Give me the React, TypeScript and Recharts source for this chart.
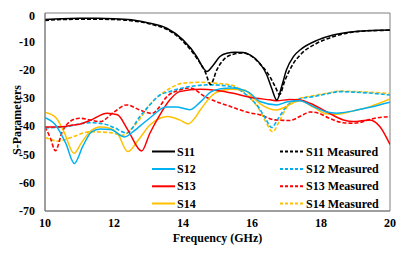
import React from 'react';
import { LineChart, Line, XAxis, YAxis, ReferenceArea } from 'recharts';

// ---- data ----
const xTicks = [10, 12, 14, 16, 18, 20];
const yTicks = [-70, -60, -50, -40, -30, -20, -10, 0];

const s11Freq = [10, 10.5, 11, 11.5, 12, 12.5, 13.04, 13.53, 14.0, 14.4, 14.59, 14.69, 14.88, 15.07, 15.27, 15.5, 15.75, 15.94, 16.23, 16.43, 16.57, 16.72, 16.86, 17.0, 17.2, 17.4, 17.9, 18.35, 18.85, 19.4, 20];
const s11Vals = [-2.3, -2.0, -1.9, -1.9, -2.0, -2.4, -3.6, -5.4, -9.5, -15.4, -19.5, -20.7, -18.4, -15.4, -14.2, -13.9, -14.0, -14.8, -17.8, -21.9, -26.6, -30.8, -26, -20.1, -15.4, -13, -9.6, -7.8, -6.7, -6.2, -6.0];

const s11mFreq = [10, 10.5, 11, 11.5, 12, 12.5, 13.04, 13.53, 14.0, 14.4, 14.64, 14.8, 14.98, 15.17, 15.46, 15.75, 15.94, 16.23, 16.52, 16.67, 16.8, 16.95, 17.2, 17.4, 17.88, 18.35, 18.85, 19.4, 20];
const s11mVals = [-2.6, -2.3, -2.2, -2.2, -2.3, -2.7, -3.9, -5.8, -10, -16, -20.7, -25.3, -20.1, -16.6, -14.6, -14.1, -14.9, -18, -22.5, -26, -28.8, -24, -17.8, -14.8, -10.7, -8.4, -6.9, -6.3, -6.1];

const s12Freq = [10, 10.3, 10.6, 10.85, 11.1, 11.35, 11.6, 11.9, 12.3, 12.6, 12.75, 13.1, 13.5, 13.8, 14.2, 14.5, 14.8, 15.1, 15.4, 15.9, 16.23, 16.72, 17.0, 17.39, 17.78, 18.16, 18.45, 18.94, 19.42, 20];
const s12Vals = [-37, -39.5, -46, -53.2, -47, -42, -41, -41.2, -43.8, -41.5, -40, -36.5, -33.2, -33.2, -34.2, -31.5, -28, -26.8, -26.5, -28, -31.3, -32.5, -31.5, -31, -33.1, -35, -35.4, -34.6, -33.3, -31.5];

const s12mFreq = [10, 10.58, 11.3, 11.74, 12.0, 12.37, 12.75, 13.0, 13.33, 13.6, 14.2, 14.8, 15.4, 15.9, 16.2, 16.4, 16.57, 16.75, 17.0, 17.3, 17.8, 18.2, 18.55, 19.0, 19.4, 20];
const s12mVals = [-40.6, -40.2, -38.8, -39.3, -40.5, -42.4, -36.6, -33, -29, -27.8, -26, -25.4, -26, -29.6, -33.5, -37.5, -40.5, -37.5, -33, -30.7, -29.5, -28.5, -27.8, -28, -28.3, -29];

const s13Freq = [10, 10.5, 10.81, 11.0, 11.3, 11.8, 12.1, 12.4, 12.8, 13.04, 13.33, 13.62, 13.9, 14.5, 14.98, 15.46, 15.94, 16.52, 16.72, 17.1, 17.4, 17.68, 18.16, 18.65, 18.94, 19.42, 19.71, 20];
const s13Vals = [-40.3, -40.2, -39.6, -39.3, -38, -35.4, -36, -41.3, -48.8, -42.5, -36, -30.7, -27.8, -27, -27.4, -28.4, -29.8, -30.7, -31, -30.6, -30.8, -31.9, -34.9, -37.8, -38.4, -37.8, -40.2, -46.5];

const s13mFreq = [10, 10.15, 10.3, 10.5, 10.72, 11.0, 11.3, 11.6, 12.0, 12.37, 12.75, 13.1, 13.3, 13.5, 13.9, 14.2, 14.64, 15.36, 15.94, 16.23, 16.67, 17.1, 17.4, 17.68, 17.95, 18.2, 18.65, 18.95, 19.2, 19.42, 20];
const s13mVals = [-40.3, -44, -48.7, -42, -38.4, -37.2, -37.8, -38.4, -35, -32.5, -34.3, -35.5, -33.5, -30, -27.2, -26.5, -29.6, -33, -35.3, -36, -37.8, -38, -36.5, -35, -35.5, -37, -38.8, -39, -38.5, -37.6, -36.6];

const s14Freq = [10, 10.3, 10.55, 10.84, 11.05, 11.3, 11.6, 11.9, 12.1, 12.4, 12.7, 13.04, 13.33, 13.55, 13.9, 14.15, 14.35, 14.5, 14.93, 15.36, 15.8, 16.0, 16.23, 16.72, 17.0, 17.39, 17.78, 18.16, 18.45, 18.94, 19.42, 20];
const s14Vals = [-35.2, -36.8, -42, -49.6, -46, -42, -40.3, -40.8, -42.5, -49, -45, -39.6, -37.2, -36.6, -37.8, -39.2, -37, -34.3, -28.3, -27, -27.3, -29.6, -32, -34.3, -33, -31, -33.3, -35.6, -35.8, -34.6, -33.1, -30.4];

const s14mFreq = [10, 10.4, 10.8, 11.3, 11.9, 12.26, 12.5, 12.75, 13.0, 13.33, 13.6, 14.0, 14.5, 14.8, 15.4, 15.9, 16.2, 16.4, 16.6, 16.78, 17.0, 17.3, 17.8, 18.2, 18.55, 19.0, 19.4, 20];
const s14mVals = [-44, -45.3, -43.8, -42, -42.3, -43.2, -41, -37.5, -33, -29, -26.8, -24.8, -24.5, -24.7, -25.5, -29.5, -34, -38.5, -42, -38.5, -33.5, -30.5, -29.2, -28.3, -27.6, -27.8, -28, -28.5];

const seriesNames = ['S11', 'S12', 'S13', 'S14'];
const measuredNames = ['S11 Measured', 'S12 Measured', 'S13 Measured', 'S14 Measured'];
const colors = ['#000000', '#00b0f0', '#ff0000', '#ffc000'];

const toPoints = (fs: number[], vs: number[]) => fs.map((f, i) => ({ f, v: vs[i] }));

const simData = [toPoints(s11Freq, s11Vals), toPoints(s12Freq, s12Vals), toPoints(s13Freq, s13Vals), toPoints(s14Freq, s14Vals)];
const measData = [toPoints(s11mFreq, s11mVals), toPoints(s12mFreq, s12mVals), toPoints(s13mFreq, s13mVals), toPoints(s14mFreq, s14mVals)];

const FONT = '"Liberation Serif", "Times New Roman", serif';
const AXIS = '#7f7f7f';

const tickStyle = { fontFamily: FONT, fontSize: 12, fontWeight: 700, fill: '#000' };

const YLabel = () => (
  <text
    x={0}
    y={0}
    transform="translate(9,112) rotate(-90)"
    textAnchor="middle"
    dominantBaseline="central"
    style={{ fontFamily: FONT, fontSize: 12, fontWeight: 700, fill: '#000' }}
  >
    S-Parameters
  </text>
);

const XLabel = () => (
  <text
    x={209.5}
    y={234}
    textAnchor="middle"
    style={{ fontFamily: FONT, fontSize: 12, fontWeight: 700, fill: '#000' }}
  >
    Frequency (GHz)
  </text>
);

const legendRowY = [143.5, 161, 178.3, 195.5];

export default function App() {
  return (
    <div style={{ position: 'relative', width: 400, height: 247 }}>
      <LineChart width={400} height={247} margin={{ top: 5, right: 18, left: 0, bottom: 0 }}>
        <XAxis
          type="number"
          dataKey="f"
          domain={[10, 20]}
          ticks={xTicks}
          allowDataOverflow
          height={44}
          tickLine={false}
          tickSize={0}
          tickMargin={7}
          axisLine={{ stroke: AXIS, strokeWidth: 1 }}
          tick={tickStyle}
          label={<XLabel />}
        />
        <YAxis
          type="number"
          domain={[-70, 0]}
          ticks={yTicks}
          allowDataOverflow
          width={37}
          tickLine={false}
          tickSize={0}
          tickMargin={10}
          axisLine={{ stroke: AXIS, strokeWidth: 1 }}
          tick={tickStyle}
          label={<YLabel />}
        />
        <ReferenceArea x1={10} x2={20} y1={-70} y2={0} fill="none" stroke={AXIS} strokeWidth={1} ifOverflow="visible" />
        {[3, 2, 1, 0].map((i) => (
          <Line
            key={'m' + i}
            data={measData[i]}
            dataKey="v"
            type="monotone"
            stroke={colors[i]}
            strokeWidth={1.6}
            strokeDasharray="4 2"
            dot={false}
            activeDot={false}
            isAnimationActive={false}
          />
        ))}
        {[3, 2, 1, 0].map((i) => (
          <Line
            key={'s' + i}
            data={simData[i]}
            dataKey="v"
            type="monotone"
            stroke={colors[i]}
            strokeWidth={1.5}
            dot={false}
            activeDot={false}
            isAnimationActive={false}
          />
        ))}
      </LineChart>
      <svg width={400} height={247} style={{ position: 'absolute', left: 0, top: 0, pointerEvents: 'none' }}>
        {seriesNames.map((n, i) => (
          <g key={n}>
            <line x1={144} x2={167} y1={legendRowY[i]} y2={legendRowY[i]} stroke={colors[i]} strokeWidth={2} />
            <text x={169} y={legendRowY[i]} dominantBaseline="central" style={{ fontFamily: FONT, fontSize: 12, fontWeight: 700, fill: '#000' }}>{n}</text>
          </g>
        ))}
        {measuredNames.map((n, i) => (
          <g key={n}>
            <line x1={272} x2={295} y1={legendRowY[i]} y2={legendRowY[i]} stroke={colors[i]} strokeWidth={2} strokeDasharray="3 2" />
            <text x={298} y={legendRowY[i]} dominantBaseline="central" style={{ fontFamily: FONT, fontSize: 12, fontWeight: 700, fill: '#000' }}>{n}</text>
          </g>
        ))}
      </svg>
    </div>
  );
}
